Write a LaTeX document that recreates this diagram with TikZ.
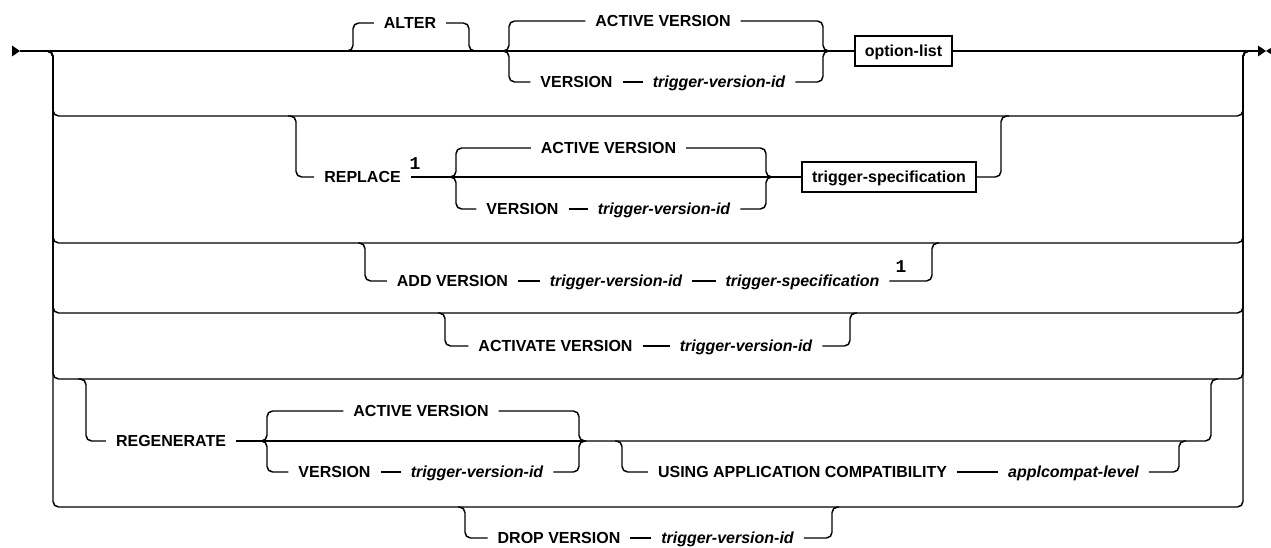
\documentclass[tikz,border=0pt]{standalone}
\usepackage{fontspec}
\setmainfont{Liberation Sans}
\newfontfamily\monof{Liberation Mono}
\begin{document}
\begin{tikzpicture}[x=0.75pt,y=-0.75pt,
  line width=1.1pt,
  rr/.style={rounded corners=4.2pt},
  kw/.style={font=\fontsize{12}{14}\selectfont\bfseries, inner xsep=7pt, inner ysep=0pt, text height=8.6pt, text depth=0pt},
  var/.style={kw, font=\fontsize{12}{14}\selectfont\bfseries\itshape},
  boxed/.style={kw, draw, minimum height=22.5pt, inner xsep=7.5pt},
  note/.style={font=\fontsize{13.5}{15}\selectfont\monof\bfseries, inner sep=0pt},
  tip/.style={fill=black}]
\path[fill=white, use as bounding box] (0,0) rectangle (1271,548);

% ---------- entry / exit ----------
\coordinate (S) at (20,51);
\coordinate (E) at (1258,51);
\coordinate (Lj) at (45,51);  \coordinate (Lv) at (53,51);
\coordinate (Rv) at (1243,51); \coordinate (Rj) at (1251,51);
\fill[tip] (12,45.5) -- (S) -- (12,56.5) -- cycle;
\fill[tip] (E) ++(0,-5.5) -- (1266,51) -- (1258,56.5) -- cycle;
\fill[tip] (1275,45.5) -- (1266,51) -- (1275,56.5) -- cycle;

% ---------- row 1 ----------
\node[kw] (alter) at (410,23) {ALTER};
\coordinate (a1) at (345,51); \coordinate (a2) at (477,51);
\draw[rr] (a1) -- (353,51) |- (alter.west);
\draw[rr] (alter.east) -| (469,51) -- (a2);

\coordinate (b1) at (503,51); \coordinate (b2) at (829,51);
\node[kw] (av1) at (663,21) {ACTIVE VERSION};
\node[kw] (v1) at (576.5,82) {VERSION};
\node[var] (t1) at (719,82) {trigger-version-id};
\draw[rr] (b1) -- (509,51) |- (av1.west);
\draw[rr] (av1.east) -| (823,51) -- (b2);
\draw[rr] (b1) -- (509,51) |- (v1.west);
\draw (v1) -- (t1);
\draw[rr] (t1.east) -| (823,51) -- (b2);

\node[boxed] (ol) at (903.5,51) {option-list};
\draw (S) -- (ol.west);
\draw (ol.east) -- (E);

% ---------- alternative rows ----------
\foreach \yy in {116,243,313,379,507}
  \draw[rr] (Lj) -- (Lv) |- (1243,\yy) -- (Rv) -- (Rj);

% ---------- row 2 : REPLACE ----------
\coordinate (p1) at (288,116); \coordinate (p2) at (1009,116);
\node[kw] (rep) at (362.5,177) {REPLACE};
\node[note] (n1) at (415,164) {1};
\coordinate (c1) at (450,177); \coordinate (c2) at (772,177);
\draw[rr] (p1) -- (296,116) |- (rep.west);
\draw (rep.east) -- (c1);
\node[kw] (av2) at (608.5,148) {ACTIVE VERSION};
\node[kw] (v2) at (522.5,209) {VERSION};
\node[var] (t2) at (664,209) {trigger-version-id};
\draw[rr] (c1) -- (456,177) |- (av2.west);
\draw[rr] (c1) -- (456,177) |- (v2.west);
\draw (v2) -- (t2);
\draw[rr] (av2.east) -| (766,177) -- (c2);
\draw[rr] (t2.east) -| (766,177) -- (c2);
\draw (c1) -- (c2);
\node[boxed] (ts) at (889,177) {trigger-specification};
\draw (c2) -- (ts.west);
\draw[rr] (ts.east) -| (1001,116) -- (p2);

% ---------- row 3 : ADD VERSION ----------
\coordinate (d1) at (358,243); \coordinate (d2) at (939,243);
\node[kw] (add) at (452.5,281) {ADD VERSION};
\node[var] (t3) at (616,281) {trigger-version-id};
\node[var] (ts3) at (802.5,281) {trigger-specification};
\node[note] (n2) at (901,267) {1};
\draw[rr] (d1) -- (365,243) |- (add.west);
\draw (add) -- (t3);
\draw (t3) -- (ts3);
\draw[rr] (ts3.east) -| (932,243) -- (d2);

% ---------- row 4 : ACTIVATE VERSION ----------
\coordinate (e1) at (438,313); \coordinate (e2) at (857,313);
\node[kw] (act) at (555.5,346) {ACTIVATE VERSION};
\node[var] (t4) at (746,346) {trigger-version-id};
\draw[rr] (e1) -- (445,313) |- (act.west);
\draw (act) -- (t4);
\draw[rr] (t4.east) -| (850,313) -- (e2);

% ---------- row 5 : REGENERATE ----------
\coordinate (g1) at (78,379); \coordinate (g2) at (1218,379);
\node[kw] (reg) at (171,441) {REGENERATE};
\coordinate (h1) at (261,441); \coordinate (h2) at (586,441);
\node[kw] (av5) at (421,411) {ACTIVE VERSION};
\node[kw] (v5) at (334.5,472) {VERSION};
\node[var] (t5) at (477,472) {trigger-version-id};
\draw[rr] (g1) -- (86,379) |- (reg.west);
\draw (reg) -- (h1);
\draw[rr] (h1) -- (267,441) |- (av5.west);
\draw[rr] (h1) -- (267,441) |- (v5.west);
\draw (v5) -- (t5);
\draw[rr] (av5.east) -| (579,441) -- (h2);
\draw[rr] (t5.east) -| (579,441) -- (h2);
\draw (h1) -- (h2);
\coordinate (u1) at (615,441); \coordinate (u2) at (1186,441);
\node[kw] (using) at (802.5,472) {USING APPLICATION COMPATIBILITY};
\node[var] (acl) at (1073.5,472) {applcompat-level};
\draw[rr] (u1) -- (622,441) |- (using.west);
\draw (using) -- (acl);
\draw[rr] (acl.east) -| (1179,441) -- (u2);
\draw[rr] (h2) -- (1211,441) -- (1211,379) -- (g2);

% ---------- row 6 : DROP VERSION ----------
\coordinate (k1) at (458,507); \coordinate (k2) at (839,507);
\node[kw] (drop) at (559,538) {DROP VERSION};
\node[var] (t6) at (727.5,538) {trigger-version-id};
\draw[rr] (k1) -- (465,507) |- (drop.west);
\draw (drop) -- (t6);
\draw[rr] (t6.east) -| (832,507) -- (k2);
\end{tikzpicture}
\end{document}
